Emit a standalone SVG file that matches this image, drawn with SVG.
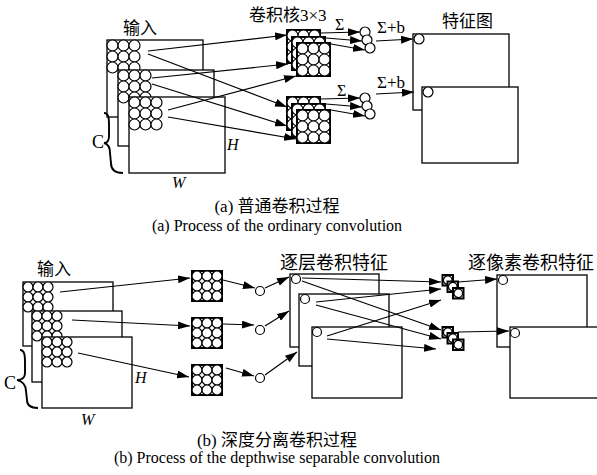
<svg xmlns="http://www.w3.org/2000/svg" xmlns:xlink="http://www.w3.org/1999/xlink" width="597" height="475" viewBox="0 0 597 475">
<style>
text{font-family:"Liberation Serif","Noto Sans CJK SC",serif;fill:#000}
.r{fill:#fff;stroke:#000;stroke-width:1.3}
.c{fill:#fff;stroke:#000;stroke-width:1.2}
.k{fill:#fff;stroke:#000;stroke-width:2}
.a{stroke:#000;stroke-width:1.2;fill:none;marker-end:url(#ah)}
.br{fill:none;stroke:#000;stroke-width:1.9}
.it{font-style:italic}
</style>
<defs>
<marker id="ah" markerWidth="12" markerHeight="8" refX="12" refY="4" orient="auto" markerUnits="userSpaceOnUse"><path d="M0,0 L12,4 L0,8 z" fill="#000"/></marker>
<g id="g11">
<circle class="c" cx="5.5" cy="5.5" r="5.5"/><circle class="c" cx="16.5" cy="5.5" r="5.5"/><circle class="c" cx="27.5" cy="5.5" r="5.5"/>
<circle class="c" cx="5.5" cy="16.5" r="5.5"/><circle class="c" cx="16.5" cy="16.5" r="5.5"/><circle class="c" cx="27.5" cy="16.5" r="5.5"/>
<circle class="c" cx="5.5" cy="27.5" r="5.5"/><circle class="c" cx="16.5" cy="27.5" r="5.5"/><circle class="c" cx="27.5" cy="27.5" r="5.5"/>
</g>
<g id="ka"><rect class="k" x="0" y="0" width="33" height="33"/><use xlink:href="#g11"/></g>
<g id="g10">
<circle class="c" cx="5" cy="5" r="5"/><circle class="c" cx="15" cy="5" r="5"/><circle class="c" cx="25" cy="5" r="5"/>
<circle class="c" cx="5" cy="15" r="5"/><circle class="c" cx="15" cy="15" r="5"/><circle class="c" cx="25" cy="15" r="5"/>
<circle class="c" cx="5" cy="25" r="5"/><circle class="c" cx="15" cy="25" r="5"/><circle class="c" cx="25" cy="25" r="5"/>
</g>
<g id="kb"><rect class="k" x="0" y="0" width="30" height="30"/><use xlink:href="#g10"/></g>
<g id="ps"><rect class="k" x="0" y="0" width="10.5" height="10.5" stroke-width="1.6"/><circle class="c" cx="5.25" cy="5.25" r="4.3"/></g>
<g id="sig"><circle class="c" cx="0" cy="0" r="5"/><circle class="c" cx="2" cy="8" r="5"/><circle class="c" cx="5" cy="16" r="5"/></g>
</defs>

<!-- ===== (a) ordinary convolution ===== -->
<g id="a-input">
<text x="123" y="34" font-size="17">输入</text>
<rect class="r" x="107" y="40" width="96" height="77"/>
<use xlink:href="#g11" x="107" y="40"/>
<rect class="r" x="118" y="70" width="96" height="76"/>
<use xlink:href="#g11" x="118" y="70"/>
<rect class="r" x="129" y="97" width="96" height="76"/>
<use xlink:href="#g11" x="129" y="97"/>
<path class="br" d="M104,113 C109,113 109,119 109,126 L109,136 C109,141 107,143 104,143 C108,144 110,147 110,153 L111,163 C111,170 115,173 123,173"/>
<text x="92" y="148" font-size="18">C</text>
<text x="227" y="150" font-size="16" class="it">H</text>
<text x="172" y="188" font-size="16" class="it">W</text>
</g>
<g id="a-kernel-top">
<text x="249" y="21" font-size="17">卷积核3×3</text>
<use xlink:href="#ka" x="287" y="30"/>
<use xlink:href="#ka" x="292" y="37"/>
<use xlink:href="#ka" x="297" y="43"/>
</g>
<g id="a-kernel-bottom">
<use xlink:href="#ka" x="287" y="97"/>
<use xlink:href="#ka" x="292" y="104"/>
<use xlink:href="#ka" x="297" y="110"/>
</g>
<g id="a-sum-top">
<text x="335" y="30" font-size="16">Σ</text>
<use xlink:href="#sig" x="365" y="32"/>
<text x="377" y="33" font-size="17">Σ+b</text>
</g>
<g id="a-sum-bottom">
<text x="337" y="96" font-size="16">Σ</text>
<use xlink:href="#sig" x="365" y="98"/>
<text x="377" y="88" font-size="17">Σ+b</text>
</g>
<g id="a-features">
<text x="442" y="27" font-size="17">特征图</text>
<rect class="r" x="413" y="34" width="96" height="76"/>
<circle class="c" cx="419" cy="39" r="5"/>
<rect class="r" x="422" y="87" width="96" height="76"/>
<circle class="c" cx="428" cy="92" r="5"/>
</g>
<g id="a-connectors">
<line class="a" x1="148" y1="51" x2="287" y2="35"/>
<line class="a" x1="148" y1="54" x2="287" y2="107"/>
<line class="a" x1="152" y1="78" x2="288" y2="64"/>
<line class="a" x1="152" y1="84" x2="287" y2="126"/>
<line class="a" x1="168" y1="110" x2="296" y2="76"/>
<line class="a" x1="168" y1="117" x2="296" y2="139"/>
<line class="a" x1="321" y1="33" x2="360" y2="32"/>
<line class="a" x1="326" y1="38" x2="362" y2="41"/>
<line class="a" x1="331" y1="44" x2="365" y2="50"/>
<line class="a" x1="321" y1="99" x2="360" y2="98"/>
<line class="a" x1="326" y1="104" x2="362" y2="107"/>
<line class="a" x1="331" y1="110" x2="365" y2="116"/>
<line class="a" x1="376" y1="41" x2="413" y2="39"/>
<line class="a" x1="376" y1="94" x2="414" y2="92"/>
</g>
<text x="277" y="212" font-size="17" text-anchor="middle">(a) 普通卷积过程</text>
<text x="277" y="231" font-size="16" text-anchor="middle">(a) Process of the ordinary convolution</text>

<!-- ===== (b) depthwise separable convolution ===== -->
<g id="b-input">
<text x="37" y="275" font-size="17">输入</text>
<rect class="r" x="23" y="282" width="90" height="64"/>
<use xlink:href="#g10" x="23" y="282"/>
<rect class="r" x="32" y="311" width="90" height="71"/>
<use xlink:href="#g10" x="32" y="311"/>
<rect class="r" x="42" y="337" width="90" height="71"/>
<use xlink:href="#g10" x="42" y="337"/>
<path class="br" d="M20,350 C25,350 25,357 25,363 L25,373 C25,378 21,380 17,380 C22,381 26,385 26,391 L27,400 C27,405 30,408 38,408"/>
<text x="4" y="389" font-size="18">C</text>
<text x="135" y="383" font-size="16" class="it">H</text>
<text x="81" y="425" font-size="16" class="it">W</text>
</g>
<g id="b-kernels">
<use xlink:href="#kb" x="192" y="271"/>
<use xlink:href="#kb" x="192" y="318"/>
<use xlink:href="#kb" x="192" y="365"/>
</g>
<g id="b-outs">
<circle class="c" cx="260" cy="291" r="4.5"/>
<circle class="c" cx="260" cy="330" r="4.5"/>
<circle class="c" cx="260" cy="378" r="4.5"/>
</g>
<g id="b-depthwise">
<text x="280" y="269" font-size="18">逐层卷积特征</text>
<rect class="r" x="290" y="274" width="89" height="73"/>
<circle class="c" cx="296" cy="279" r="4.5"/>
<rect class="r" x="299" y="294" width="90" height="72"/>
<circle class="c" cx="305" cy="299" r="4.5"/>
<rect class="r" x="312" y="327" width="90" height="71"/>
<circle class="c" cx="317" cy="332" r="4.5"/>
</g>
<g id="b-pointwise-top">
<use xlink:href="#ps" x="442.5" y="275"/>
<use xlink:href="#ps" x="447.5" y="281.5"/>
<use xlink:href="#ps" x="453" y="288"/>
</g>
<g id="b-pointwise-bottom">
<use xlink:href="#ps" x="442.5" y="327"/>
<use xlink:href="#ps" x="447.5" y="333"/>
<use xlink:href="#ps" x="453" y="339.5"/>
</g>
<g id="b-features">
<text x="468" y="269" font-size="18">逐像素卷积特征</text>
<rect class="r" x="497" y="275" width="90" height="72"/>
<circle class="c" cx="503" cy="280" r="4.5"/>
<rect class="r" x="510" y="327" width="92" height="71"/>
<circle class="c" cx="515" cy="333" r="4.5"/>
</g>
<g id="b-connectors">
<line class="a" x1="60" y1="292" x2="190" y2="278"/>
<line class="a" x1="72" y1="320" x2="190" y2="326"/>
<line class="a" x1="78" y1="353" x2="189" y2="377"/>
<line class="a" x1="223" y1="280" x2="255" y2="288"/>
<line class="a" x1="223" y1="324" x2="254" y2="325"/>
<line class="a" x1="226" y1="368" x2="254" y2="376"/>
<line class="a" x1="265" y1="288" x2="289" y2="277"/>
<line class="a" x1="265" y1="326" x2="289" y2="311"/>
<line class="a" x1="265" y1="375" x2="297" y2="352"/>
<line class="a" x1="302" y1="278" x2="441" y2="282"/>
<line class="a" x1="302" y1="281" x2="441" y2="330"/>
<line class="a" x1="316" y1="302" x2="441" y2="289"/>
<line class="a" x1="316" y1="305" x2="441" y2="339"/>
<line class="a" x1="327" y1="336" x2="441" y2="300"/>
<line class="a" x1="327" y1="339" x2="436" y2="349"/>
<line class="a" x1="458" y1="282" x2="497" y2="279"/>
<line class="a" x1="458" y1="332" x2="509" y2="331"/>
</g>
<text x="277" y="446" font-size="17" text-anchor="middle">(b) 深度分离卷积过程</text>
<text x="277" y="463" font-size="16" text-anchor="middle">(b) Process of the depthwise separable convolution</text>
</svg>
